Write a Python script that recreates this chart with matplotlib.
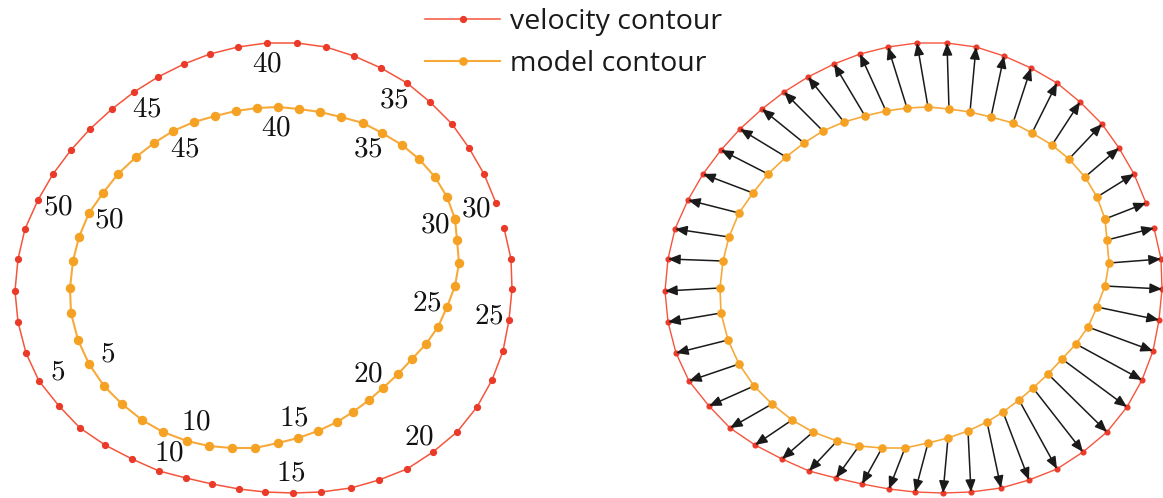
import matplotlib
matplotlib.use("Agg")
import matplotlib.pyplot as plt
import numpy as np
from matplotlib.lines import Line2D

plt.rcParams["mathtext.fontset"] = "cm"

# Contour points (same sampling index on both contours).
# The velocity contour is open between its last and first sample.
vel_x = [231, 219, 204, 187, 165, 142, 116, 89, 61, 32, 2, -27, -55, -81,
         -107, -131, -153, -175, -194, -212, -227, -240, -247, -250, -247,
         -239, -226, -206, -185, -160, -133, -106, -79, -53, -26, 0, 28, 56,
         86, 114, 142, 168, 192, 212, 227, 238, 244, 247, 246, 239]
vel_y = [65, 94, 120, 144, 166, 185, 200, 212, 221, 225, 225, 221, 214, 204,
         191, 176, 159, 139, 118, 94, 68, 39, 9, -23, -54, -85, -113, -138,
         -160, -177, -191, -203, -210, -216, -221, -224, -225, -224, -220,
         -212, -201, -184, -164, -139, -112, -83, -52, -21, 9, 40]
model_x = [190, 182, 170, 154, 137, 117, 98, 76, 55, 34, 13, -8, -29, -50,
           -71, -92, -111, -129, -147, -162, -176, -186, -192, -195, -194,
           -187, -176, -161, -143, -123, -102, -78, -56, -33, -10, 13, 33, 53,
           72, 88, 104, 118, 133, 147, 161, 173, 182, 190, 194, 192]
model_y = [49, 71, 91, 109, 123, 135, 145, 151, 156, 159, 161, 160, 157, 152,
           146, 137, 125, 111, 94, 75, 55, 31, 7, -20, -45, -72, -96, -118,
           -136, -152, -164, -173, -178, -180, -180, -175, -170, -163, -154,
           -144, -132, -120, -106, -91, -76, -59, -39, -18, 5, 28]

label_idx = [0, 5, 10, 15, 20, 26, 31, 36, 41, 46]
label_txt = [30, 35, 40, 45, 50, 5, 10, 15, 20, 25]

RED, RED_DOT = "#f5553c", "#ea3b2a"
ORANGE, ORANGE_DOT = "#f7aa3a", "#f5a224"

W, H = 1163, 498
CX, CY = 265, 268          # contour centre in the picture, in pixels
SHIFT = 650                # right panel offset, in pixels

vx, vy = np.array(vel_x, float), np.array(vel_y, float)
mx, my = np.array(model_x, float), np.array(model_y, float)
mxc, myc = np.r_[mx, mx[:1]], np.r_[my, my[:1]]

fig = plt.figure(figsize=(W / 100, H / 100), dpi=100)
axL = fig.add_axes([0, 0, 580 / W, 1])
axL.set_xlim(-CX, 580 - CX)
axL.set_ylim(CY - H, CY)
axR = fig.add_axes([SHIFT / W, 0, (W - SHIFT) / W, 1])
axR.set_xlim(-CX, W - SHIFT - CX)
axR.set_ylim(CY - H, CY)
for ax in (axL, axR):
    ax.axis("off")

# left: labelled contours
axL.plot(vx, vy, color=RED, lw=1.1, marker="o", ms=4.2, mfc=RED_DOT,
         mec=RED_DOT, clip_on=False, zorder=2)
axL.plot(mxc, myc, color=ORANGE, lw=1.5, marker="o", ms=5.8, mfc=ORANGE_DOT,
         mec=ORANGE_DOT, clip_on=False, zorder=2)


def put_labels(ax, xs, ys, r=21):
    for i, t in zip(label_idx, label_txt):
        d = np.hypot(xs[i], ys[i])
        ux, uy = -xs[i] / d, -ys[i] / d
        ax.annotate(f"${t}$", xy=(xs[i], ys[i]), xytext=(ux * r, uy * r),
                    textcoords="offset pixels", ha="center", va="center",
                    fontsize=21, color="#111111", zorder=5)


put_labels(axL, vx, vy)
put_labels(axL, mx, my)

# right: displacement arrows from model to velocity contour
axR.plot(vx, vy, color=RED, lw=1.0, marker="o", ms=3.4, mfc=RED_DOT,
         mec=RED_DOT, clip_on=False, zorder=2)
for i in range(len(vx)):
    axR.annotate("", xy=(vx[i], vy[i]), xytext=(mx[i], my[i]),
                 arrowprops=dict(arrowstyle="-|>,head_length=0.6,head_width=0.25",
                                 color="#1a1a1a", lw=1.1, shrinkA=0, shrinkB=0,
                                 mutation_scale=12), zorder=3)
axR.plot(mxc, myc, color=ORANGE, lw=1.2, marker="o", ms=5.2, mfc=ORANGE_DOT,
         mec=ORANGE_DOT, clip_on=False, zorder=4)

handles = [
    Line2D([], [], color=RED, lw=1.1, marker="o", ms=4.2, mfc=RED_DOT, mec=RED_DOT),
    Line2D([], [], color=ORANGE, lw=1.5, marker="o", ms=5.2, mfc=ORANGE_DOT, mec=ORANGE_DOT),
]
leg = fig.legend(handles, ["velocity contour", "model contour"],
                 loc="upper left", bbox_to_anchor=(425 / W, 1 - 8 / H),
                 frameon=False, borderpad=0, borderaxespad=0,
                 handlelength=2.65, handletextpad=0.35, labelspacing=0.5,
                 prop={"family": "Open Sans", "size": 20.5})
for t in leg.get_texts():
    t.set_color("#1a1a1a")

fig.savefig("out.png", dpi=100)
